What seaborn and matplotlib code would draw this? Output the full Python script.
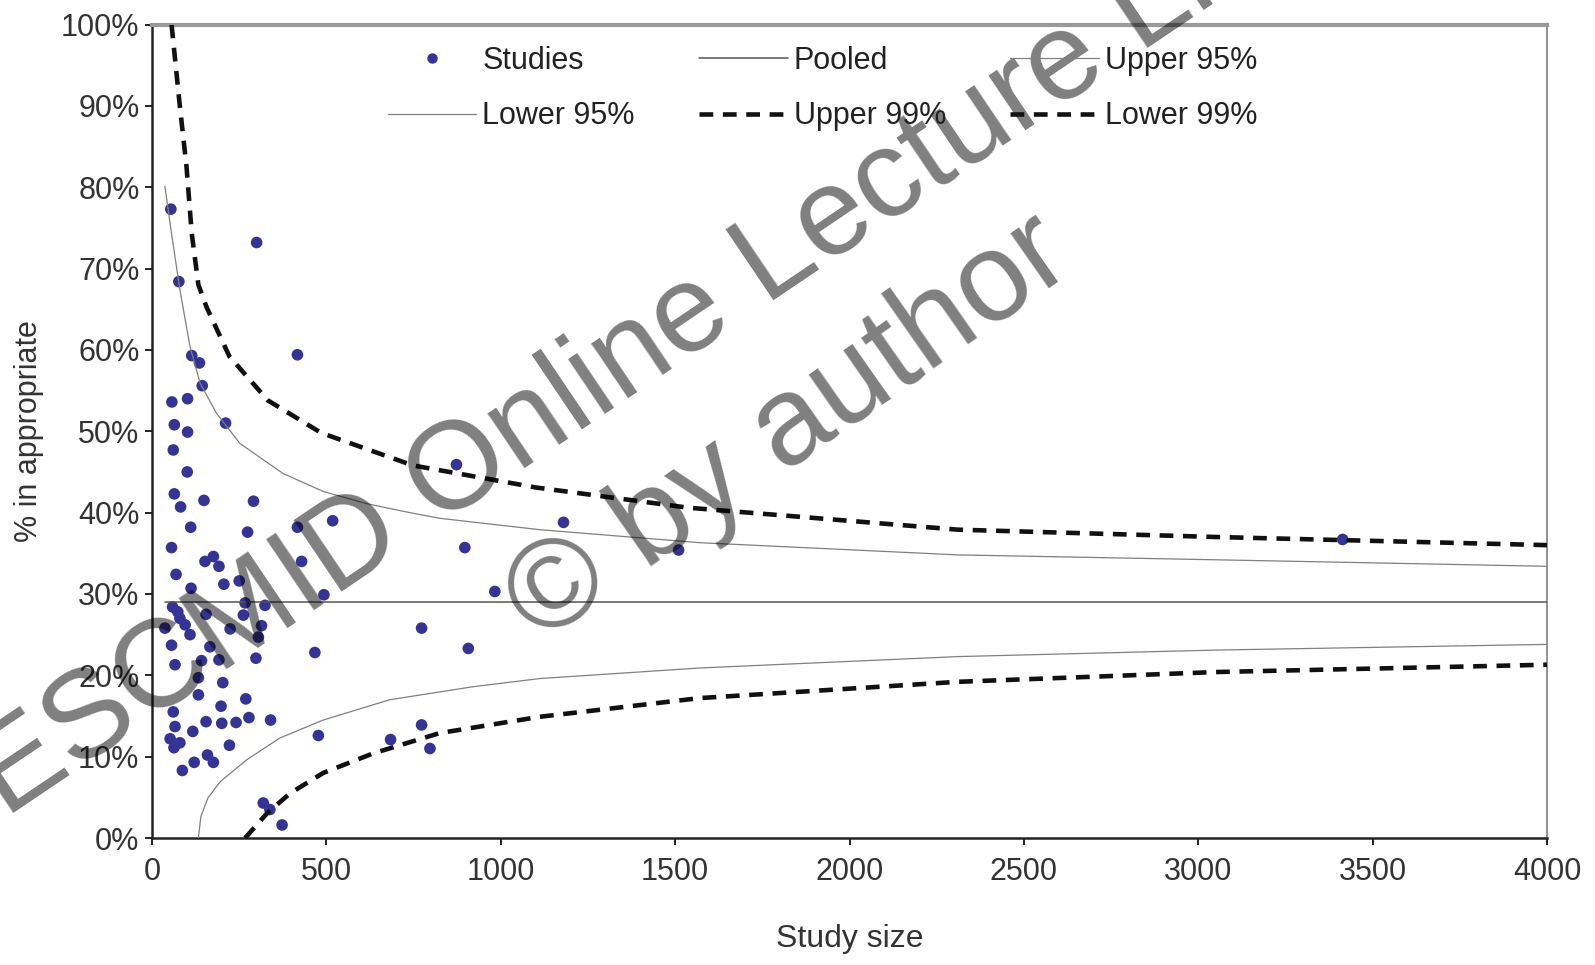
import matplotlib
matplotlib.use("Agg")
import matplotlib.pyplot as plt
import seaborn as sns
import pandas as pd
from matplotlib.lines import Line2D
from matplotlib.ticker import FuncFormatter

# ---------------- data ----------------
study_size = [54, 77, 300, 114, 417, 136, 144, 57, 102, 211, 64, 102, 61, 101, 64, 82,
              149, 291, 111, 274, 417, 518, 56, 152, 176, 192, 429, 69, 112, 206, 250,
              493, 873, 897, 983, 1180, 1510, 3414,
              59, 74, 155, 267, 262, 324, 37, 95, 224, 314, 80, 109,
              305, 56, 166, 142, 192, 298, 467, 66, 133, 203, 133, 269, 198, 61, 155,
              200, 241, 278, 340, 117, 66, 52, 80, 63, 222, 159, 176, 121, 87, 477,
              684, 773, 797, 773, 907, 319, 338, 373]
study_pct = [77.3, 68.4, 73.2, 59.3, 59.4, 58.4, 55.6, 53.6, 54.0, 51.0, 50.8, 49.9, 47.7,
             45.0, 42.3, 40.7, 41.5, 41.4, 38.2, 37.6, 38.2, 39.0, 35.7, 34.0, 34.6, 33.4,
             34.0, 32.4, 30.7, 31.2, 31.6, 29.9, 45.9, 35.7, 30.3, 38.8, 35.4, 36.7,
             28.4, 27.8, 27.5, 28.9, 27.4, 28.6, 25.8, 26.2, 25.7, 26.1, 27.0, 25.0,
             24.7, 23.7, 23.5, 21.8, 21.9, 22.1, 22.8, 21.3, 19.7, 19.1, 17.6, 17.1, 16.2,
             15.5, 14.3, 14.1, 14.2, 14.8, 14.5, 13.1, 13.7, 12.2, 11.7, 11.1, 11.4, 10.2,
             9.3, 9.3, 8.3, 12.6, 12.1, 13.9, 11.0, 25.8, 23.3, 4.3, 3.5, 1.6]

pooled_x = [37, 4000]
pooled_y = [29.0, 29.0]

upper95_x = [37, 56, 80, 109, 138, 185, 252, 376, 491, 615, 739, 825, 1112, 1571, 2311, 3051, 4000]
upper95_y = [80.1, 74.3, 67.4, 60.4, 55.9, 52.2, 48.5, 44.8, 42.6, 41.1, 40.0, 39.3, 37.9, 36.3, 34.8, 34.2, 33.4]

lower95_x = [133, 140, 160, 195, 271, 367, 491, 682, 921, 1112, 1571, 2311, 3051, 4000]
lower95_y = [0.0, 2.6, 4.9, 6.9, 9.6, 12.3, 14.5, 17.0, 18.6, 19.6, 20.9, 22.3, 23.1, 23.8]

upper99_x = [56, 80, 99, 114, 133, 156, 222, 332, 485, 748, 1099, 1538, 2311, 3051, 4000]
upper99_y = [100.0, 89.9, 82.5, 74.3, 68.0, 65.3, 59.2, 53.8, 49.8, 45.8, 43.1, 40.6, 37.9, 37.0, 36.0]

lower99_x = [267, 329, 396, 491, 634, 825, 1112, 1571, 2311, 3051, 4000]
lower99_y = [0.0, 3.0, 5.5, 8.0, 10.4, 12.9, 14.9, 17.2, 19.2, 20.4, 21.3]

x_ticks = [0, 500, 1000, 1500, 2000, 2500, 3000, 3500, 4000]
y_ticks = [0, 10, 20, 30, 40, 50, 60, 70, 80, 90, 100]

legend_labels = ["Studies", "Pooled", "Upper 95%", "Lower 95%", "Upper 99%", "Lower 99%"]
x_label = "Study size"
y_label = "% in appropriate"
watermark_1 = "ESCMID Online Lecture Library"
watermark_2 = "\u00a9 by author"

# ---------------- style ----------------
sns.set_theme(style="white")
plt.rcParams["font.family"] = ["Liberation Sans", "DejaVu Sans"]

W, H = 1595, 965
fig = plt.figure(figsize=(W / 100, H / 100), dpi=100)
ax = fig.add_axes([152 / W, 1 - 838 / H, (1547 - 152) / W, (838 - 24.5) / H])

point_color = "#343497"
thin_color = "#808080"
pooled_color = "#555555"
dash_pattern = (3.0, 2.1)

df_pts = pd.DataFrame({"size": study_size, "pct": study_pct})
sns.scatterplot(data=df_pts, x="size", y="pct", ax=ax, color=point_color,
                s=70, edgecolor="none", linewidth=0, legend=False, zorder=3)

def draw_line(xs, ys, color, lw, dashed=False):
    sns.lineplot(x=xs, y=ys, ax=ax, color=color, linewidth=lw, estimator=None,
                 sort=False, legend=False, zorder=4)
    ln = ax.lines[-1]
    if dashed:
        ln.set_dashes(dash_pattern)
    return ln

draw_line(pooled_x, pooled_y, pooled_color, 1.1)
draw_line(upper95_x, upper95_y, thin_color, 0.9)
draw_line(lower95_x, lower95_y, thin_color, 0.9)
draw_line(upper99_x, upper99_y, "#111111", 3.3, dashed=True)
draw_line(lower99_x, lower99_y, "#111111", 3.3, dashed=True)

ax.set_xlim(0, 4000)
ax.set_ylim(0, 100)
ax.set_xticks(x_ticks)
ax.set_yticks(y_ticks)
ax.yaxis.set_major_formatter(FuncFormatter(lambda v, p: f"{int(round(v))}%"))

ax.tick_params(axis="y", direction="out", length=5, width=1.4, color="#222222",
               labelsize=22, labelcolor="#333333", pad=4, left=True)
ax.tick_params(axis="x", direction="out", length=5, width=1.4, color="#222222",
               labelsize=22, labelcolor="#333333", pad=9, bottom=True)

for side in ["left", "bottom"]:
    ax.spines[side].set_color("#222222")
    ax.spines[side].set_linewidth(1.8)
ax.spines["top"].set_color("#9a9a9a")
ax.spines["top"].set_linewidth(3.0)
ax.spines["right"].set_color("#8a8a8a")
ax.spines["right"].set_linewidth(1.3)

ax.set_xlabel(x_label, fontsize=23, color="#333333", labelpad=26)
ax.set_ylabel(y_label, fontsize=22, color="#333333", labelpad=12)

# ---------------- legend (row-wise order in 3 columns) ----------------
h_studies = Line2D([], [], marker="o", linestyle="none", color=point_color, markersize=6.5)
h_pooled = Line2D([], [], color=pooled_color, lw=1.1)
h_up95 = Line2D([], [], color=thin_color, lw=0.9)
h_lo95 = Line2D([], [], color=thin_color, lw=0.9)
h_up99 = Line2D([], [], color="#111111", lw=3.3)
h_up99.set_dashes(dash_pattern)
h_lo99 = Line2D([], [], color="#111111", lw=3.3)
h_lo99.set_dashes(dash_pattern)
handles_rowwise = [h_studies, h_pooled, h_up95, h_lo95, h_up99, h_lo99]
order = [0, 3, 1, 4, 2, 5]
leg = fig.legend([handles_rowwise[i] for i in order], [legend_labels[i] for i in order],
                 ncol=3, loc="upper left", bbox_to_anchor=(360 / W, 1 - 18 / H),
                 bbox_transform=fig.transFigure, frameon=False, fontsize=22,
                 handlelength=2.9, handletextpad=0.2, columnspacing=2.1,
                 labelspacing=0.85, borderpad=0.4)
for t in leg.get_texts():
    t.set_color("#222222")

# ---------------- watermark ----------------
fig.text(5 / W, 1 - 818 / H, watermark_1, fontsize=90, color="black", alpha=0.5,
         rotation=34, rotation_mode="anchor", ha="left", va="baseline")
fig.text(540 / W, 1 - 645 / H, watermark_2, fontsize=91, color="black", alpha=0.5,
         rotation=35, rotation_mode="anchor", ha="left", va="baseline")

fig.savefig("out.png", dpi=100, facecolor="white")
